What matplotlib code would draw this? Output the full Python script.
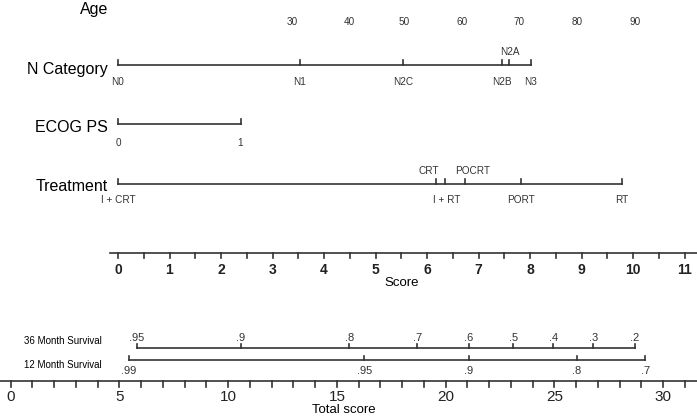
import matplotlib.pyplot as plt

plt.rcParams['font.family'] = ['Liberation Sans', 'DejaVu Sans']

# points (score units)
age_labels = ['30', '40', '50', '60', '70', '80', '90']
age_pts = [3.38, 4.50, 5.55, 6.68, 7.79, 8.91, 10.04]

n_labels = ['N0', 'N1', 'N2C', 'N2B', 'N2A', 'N3']
n_pts = [0.0, 3.53, 5.53, 7.46, 7.60, 8.02]
n_above = [False, False, False, False, True, False]

ecog_labels = ['0', '1']
ecog_pts = [0.0, 2.38]

treat_labels = ['I + CRT', 'CRT', 'I + RT', 'POCRT', 'PORT', 'RT']
treat_pts = [0.0, 6.17, 6.34, 6.74, 7.82, 9.78]
treat_above = [False, True, False, True, False, False]

score_ticks = list(range(0, 12))

# survival scales (total score units)
surv36_labels = ['.95', '.9', '.8', '.7', '.6', '.5', '.4', '.3', '.2']
surv36_pts = [5.79, 10.57, 15.57, 18.70, 21.06, 23.10, 24.95, 26.79, 28.70]
surv12_labels = ['.99', '.95', '.9', '.8', '.7']
surv12_pts = [5.43, 16.26, 21.06, 26.02, 29.17]
total_ticks = list(range(0, 32))

col = '#333333'
fig = plt.figure(figsize=(6.97, 4.17), dpi=100)

# top axes: score units horizontally, pixel rows vertically
ax = fig.add_axes([0, 0, 1, 1])
ax.set_xlim(-118 / 51.5, (697 - 118) / 51.5)
ax.set_ylim(417, 0)
ax.axis('off')

# bottom axes: total score units
bx = fig.add_axes([0, 0, 1, 1])
bx.set_xlim(-10.7 / 21.75, (697 - 10.7) / 21.75)
bx.set_ylim(417, 0)
bx.axis('off')
bx.patch.set_alpha(0)

lbl_x = -0.2
tk = 5
small = 7.2
# nudge crowded labels sideways (score units) so they don't collide
nudge = {'CRT': -0.14, 'POCRT': 0.14, 'I + RT': 0.05}


def point_row(a, y, pts, labels, above=None, gap=13):
    a.plot([min(pts), max(pts)], [y, y], color=col, lw=1.2)
    for i, (p, t) in enumerate(zip(pts, labels)):
        a.plot([p, p], [y, y - tk], color=col, lw=1.2)
        up = above[i] if above else False
        px = p + nudge.get(t, 0)
        if up:
            a.text(px, y - tk - 3, t, ha='center', va='bottom', fontsize=small, color=col)
        else:
            a.text(px, y + gap, t, ha='center', va='center', fontsize=small, color=col)


# Age (labels only)
ax.text(-0.19, 9, 'Age', ha='right', va='center', fontsize=11.5)
for p, t in zip(age_pts, age_labels):
    ax.text(p, 22, t, ha='center', va='center', fontsize=small, color=col)

ax.text(lbl_x, 69, 'N Category', ha='right', va='center', fontsize=11.5)
point_row(ax, 65, n_pts, n_labels, n_above, gap=17)

ax.text(lbl_x, 127, 'ECOG PS', ha='right', va='center', fontsize=11.5)
point_row(ax, 124, ecog_pts, ecog_labels, gap=19)

ax.text(lbl_x, 186, 'Treatment', ha='right', va='center', fontsize=11.5)
point_row(ax, 184, treat_pts, treat_labels, treat_above, gap=16)

# Score axis
ys = 253
ax.plot([-0.16, 11.3], [ys, ys], color=col, lw=1.2)
for s in score_ticks:
    ax.plot([s, s], [ys, ys + 5], color=col, lw=1.2)
    ax.text(s, 270, str(s), ha='center', va='center', fontsize=10, fontweight='bold', color='#222222')
    if s + 0.5 <= 11:
        ax.plot([s + 0.5, s + 0.5], [ys, ys + 5], color=col, lw=1.2)
ax.text(5.5, 283, 'Score', ha='center', va='center', fontsize=9.5)

# survival scales
y36 = 348
bx.text(4.2, 341, '36 Month Survival', ha='right', va='center', fontsize=7)
bx.plot([min(surv36_pts), max(surv36_pts)], [y36, y36], color=col, lw=1.2)
for p, t in zip(surv36_pts, surv36_labels):
    bx.plot([p, p], [y36, y36 - 4], color=col, lw=1.2)
    bx.text(p, y36 - 5, t, ha='center', va='bottom', fontsize=8, color=col)

y12 = 360
bx.text(4.2, 365, '12 Month Survival', ha='right', va='center', fontsize=7)
bx.plot([min(surv12_pts), max(surv12_pts)], [y12, y12], color=col, lw=1.2)
for p, t in zip(surv12_pts, surv12_labels):
    bx.plot([p, p], [y12, y12 - 4], color=col, lw=1.2)
    bx.text(p, 371, t, ha='center', va='center', fontsize=8, color=col)

# Total score axis
yt = 381
bx.plot([-0.5, 31.6], [yt, yt], color=col, lw=1.2)
for s in total_ticks:
    bx.plot([s, s], [yt, yt + 6], color=col, lw=1.2)
    if s % 5 == 0:
        bx.text(s, 397, str(s), ha='center', va='center', fontsize=11, color='#222222')
bx.text(15.3, 410, 'Total score', ha='center', va='center', fontsize=9.5)

fig.savefig('out.png', dpi=100)
